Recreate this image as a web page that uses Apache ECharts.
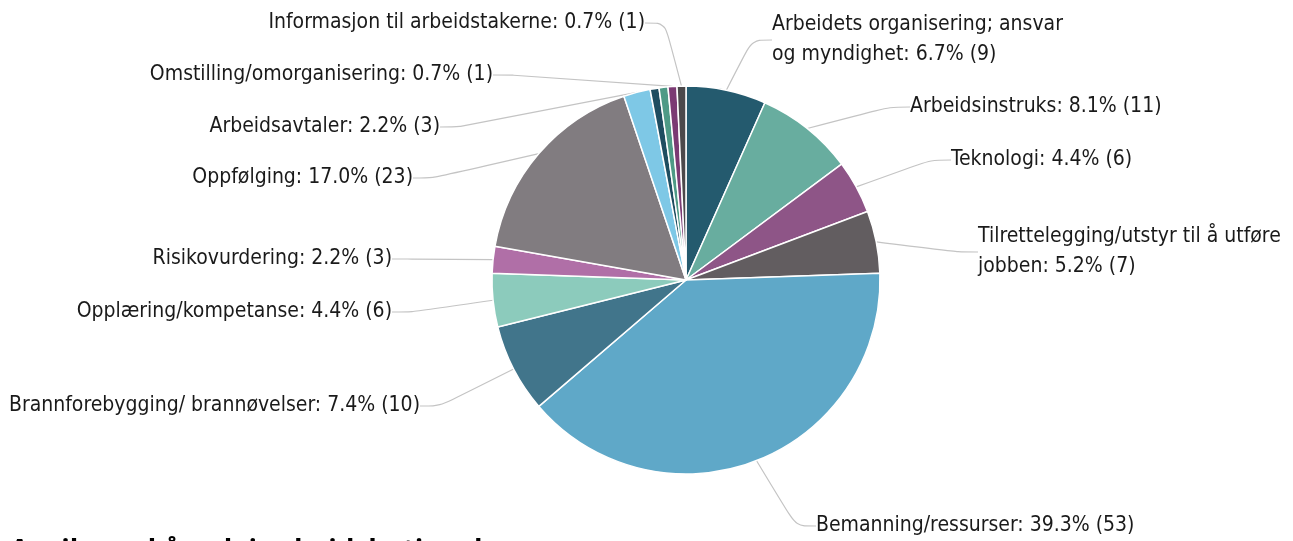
<!DOCTYPE html>
<html>
<head>
<meta charset="utf-8">
<script src="https://cdn.jsdelivr.net/npm/echarts@6/dist/echarts.min.js"></script>
<style>
  html, body { margin: 0; padding: 0; background: #fff; }
  #chart { width: 1293px; height: 541px; }
</style>
</head>
<body>
<div id="chart"></div>
<script>
// clockwise from 12 o'clock
const categories = [
  'Arbeidets organisering; ansvar\nog myndighet',
  'Arbeidsinstruks',
  'Teknologi',
  'Tilrettelegging/utstyr til å utføre\njobben',
  'Bemanning/ressurser',
  'Brannforebygging/ brannøvelser',
  'Opplæring/kompetanse',
  'Risikovurdering',
  'Oppfølging',
  'Arbeidsavtaler',
  'Annet 1',
  'Annet 2',
  'Omstilling/omorganisering',
  'Informasjon til arbeidstakerne'
]
const counts = [9, 11, 6, 7, 53, 10, 6, 3, 23, 3, 1, 1, 1, 1]
const showLabel = [true, true, true, true, true, true, true, true, true, true, false, false, true, true]
const colors = [
  '#245a6e', '#68ad9f', '#8e5587', '#625d60', '#5fa8c8', '#41758b', '#8ccbbc',
  '#b06fa7', '#817c80', '#7ec8e6', '#1e4d60', '#4e9a86', '#7b3a73', '#4c494b'
]
// where each label sits (text anchor x, middle y, alignment)
const labelSpots = [
  [772, 40, 'left'], [910, 107, 'left'], [951, 160, 'left'], [978, 252, 'left'],
  [816, 526, 'left'], [420, 406, 'right'], [392, 312, 'right'], [392, 259, 'right'],
  [413, 178, 'right'], [440, 127, 'right'], [0, 0, 'right'], [0, 0, 'right'],
  [493, 75, 'right'], [645, 23, 'right']
]

const total = counts.reduce((a, b) => a + b, 0)
const chart = echarts.init(document.getElementById('chart'))

const option = {
  animation: false,
  color: colors,
  graphic: [{
    type: 'text',
    left: 10,
    top: 538,
    style: {
      text: 'Avvik med årsak i arbeidsbetingelser',
      font: 'bold 28px "Open Sans"',
      fill: '#000'
    }
  }],
  series: [{
    type: 'pie',
    center: [686, 280],
    radius: [0, 194],
    startAngle: 90,
    clockwise: true,
    avoidLabelOverlap: false,
    itemStyle: {
      borderColor: '#fff',
      borderWidth: 1.5
    },
    label: {
      color: '#1a1a1a',
      fontSize: 21,
      fontFamily: '"DejaVu Sans Condensed", Roboto',
      lineHeight: 30,
      formatter: p => p.name + ': ' + (p.value / total * 100).toFixed(1) + '% (' + p.value + ')'
    },
    labelLine: {
      show: true,
      smooth: 0.3,
      length: 14,
      length2: 20,
      lineStyle: { color: '#c4c4c4', width: 1.2 }
    },
    labelLayout: p => {
      const s = labelSpots[p.dataIndex]
      return { x: s[0], y: s[1], align: s[2], verticalAlign: 'middle' }
    },
    data: categories.map((name, i) => ({
      name,
      value: counts[i],
      label: { show: showLabel[i] },
      labelLine: { show: showLabel[i] }
    }))
  }]
}

option && chart.setOption(option)
window.addEventListener('resize', () => chart.resize())
</script>
</body>
</html>
